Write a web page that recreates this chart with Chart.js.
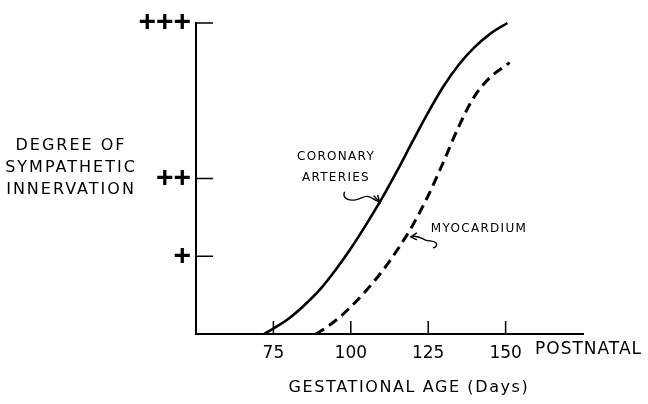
<!DOCTYPE html>
<html><head><meta charset="utf-8">
<script src="https://cdn.jsdelivr.net/npm/chart.js@4/dist/chart.umd.min.js"></script>
<style>html,body{margin:0;padding:0;background:#fff}#wrap{width:648px;height:404px}</style>
</head><body><div id="wrap"><canvas id="c" width="648" height="404"></canvas></div>
<script>
const xTickValues = [75, 100, 125, 150];
const yTickValues = [1, 2, 4];
const yTickLabels = ['+', '++', '+++'];
const coronaryX = [72, 75, 80, 85, 90, 95, 100, 105, 110, 115, 120, 125, 130, 135, 140, 145, 150.6];
const coronaryY = [0, 0.07, 0.2, 0.37, 0.57, 0.82, 1.1, 1.41, 1.74, 2.1, 2.48, 2.85, 3.19, 3.47, 3.69, 3.86, 4.0];
const myoX = [88.6, 90, 95, 100, 105, 110, 115, 120, 125, 130, 135, 140, 145, 151.3];
const myoY = [0, 0.03, 0.17, 0.35, 0.56, 0.8, 1.08, 1.4, 1.78, 2.22, 2.68, 3.06, 3.3, 3.49];
const titleLines = ['DEGREE OF', 'SYMPATHETIC', 'INNERVATION'];
const xTitle = 'GESTATIONAL AGE (Days)';
const postLabel = 'POSTNATAL';
const coronaryLabel = ['CORONARY', 'ARTERIES'];
const myoLabel = 'MYOCARDIUM';
const coronaryArrowAt = [109.3, 1.7];
const myoArrowAt = [119.4, 1.25];

const toPts = (xs, ys) => xs.map((x, i) => ({x: x, y: ys[i]}));

const deco = {
  id: 'deco',
  afterDraw(chart) {
    const ctx = chart.ctx, xs = chart.scales.x, ys = chart.scales.y, ca = chart.chartArea;
    ctx.save();
    ctx.strokeStyle = '#000'; ctx.fillStyle = '#000';
    ctx.lineWidth = 1.5;
    yTickValues.forEach(v => {
      const y = ys.getPixelForValue(v);
      ctx.beginPath(); ctx.moveTo(ca.left, y); ctx.lineTo(ca.left + 17, y); ctx.stroke();
    });
    xTickValues.forEach(v => {
      const x = xs.getPixelForValue(v);
      ctx.beginPath(); ctx.moveTo(x, ca.bottom); ctx.lineTo(x, ca.bottom - 13); ctx.stroke();
    });
    ctx.font = '17px "DejaVu Sans"';
    ctx.letterSpacing = '1px';
    ctx.textAlign = 'left'; ctx.textBaseline = 'middle';
    ctx.fillText(postLabel, ca.right - 48, ca.bottom + 16);
    ctx.font = '16px "DejaVu Sans"';
    ctx.letterSpacing = '2px';
    ctx.textAlign = 'center';
    titleLines.forEach((t, i) => ctx.fillText(t, 71, 146 + i * 22));
    ctx.letterSpacing = '1.6px';
    ctx.fillText(xTitle, 409, 388);
    ctx.font = '12px "DejaVu Sans"';
    ctx.letterSpacing = '1.3px';
    ctx.fillText(coronaryLabel[0], 336, 157);
    ctx.fillText(coronaryLabel[1], 336, 178);
    ctx.fillText(myoLabel, 479, 229);
    ctx.letterSpacing = '0px';
    ctx.lineWidth = 1.4;
    let tx = xs.getPixelForValue(coronaryArrowAt[0]), ty = ys.getPixelForValue(coronaryArrowAt[1]);
    ctx.beginPath();
    ctx.moveTo(tx - 35, ty - 10);
    ctx.bezierCurveTo(tx - 38, ty - 3, tx - 30, ty - 1, tx - 24, ty - 2);
    ctx.bezierCurveTo(tx - 18, ty - 3, tx - 15, ty - 7, tx - 10, ty - 5);
    ctx.bezierCurveTo(tx - 6, ty - 3, tx - 4, ty - 1, tx, ty);
    ctx.stroke();
    ctx.beginPath();
    ctx.moveTo(tx - 6, ty - 6); ctx.lineTo(tx, ty); ctx.lineTo(tx - 2, ty - 7);
    ctx.stroke();
    tx = xs.getPixelForValue(myoArrowAt[0]); ty = ys.getPixelForValue(myoArrowAt[1]);
    ctx.beginPath();
    ctx.moveTo(tx, ty);
    ctx.bezierCurveTo(tx + 6, ty - 2, tx + 10, ty + 1, tx + 14, ty + 3);
    ctx.bezierCurveTo(tx + 18, ty + 5, tx + 22, ty + 3, tx + 25, ty + 6);
    ctx.bezierCurveTo(tx + 27, ty + 8, tx + 25, ty + 11, tx + 22, ty + 11);
    ctx.stroke();
    ctx.beginPath();
    ctx.moveTo(tx + 6, ty - 4); ctx.lineTo(tx, ty); ctx.lineTo(tx + 6, ty + 3);
    ctx.stroke();
    ctx.restore();
  }
};

new Chart(document.getElementById('c'), {
  type: 'line',
  data: {
    datasets: [
      {label: 'Coronary arteries', data: toPts(coronaryX, coronaryY), borderColor: '#000', borderWidth: 2.6,
       pointRadius: 0, cubicInterpolationMode: 'monotone', fill: false, clip: 8},
      {label: 'Myocardium', data: toPts(myoX, myoY), borderColor: '#000', borderWidth: 3,
       borderDash: [10, 6], pointRadius: 0, cubicInterpolationMode: 'monotone', fill: false, clip: 8}
    ]
  },
  options: {
    responsive: false, animation: false, devicePixelRatio: 1,
    layout: {padding: {left: 0, right: 65, top: 22, bottom: 0}},
    plugins: {legend: {display: false}, tooltip: {enabled: false}},
    scales: {
      x: {
        type: 'linear', min: 50, max: 175,
        afterBuildTicks: s => { s.ticks = xTickValues.map(v => ({value: v})); },
        afterFit: s => { s.height = 70; },
        grid: {display: false, drawTicks: false},
        border: {display: true, color: '#000', width: 2},
        ticks: {padding: 9, color: '#000', font: {family: 'DejaVu Sans', size: 17}, maxRotation: 0, autoSkip: false}
      },
      y: {
        type: 'linear', min: 0, max: 4,
        afterBuildTicks: s => { s.ticks = yTickValues.map(v => ({value: v})); },
        afterFit: s => { s.width = 196; },
        grid: {display: false, drawTicks: false},
        border: {display: true, color: '#000', width: 2},
        ticks: {padding: 5, color: '#000', font: {family: 'Liberation Sans', size: 30, weight: 'bold'},
                autoSkip: false, callback: v => yTickLabels[yTickValues.indexOf(v)] || ''}
      }
    }
  },
  plugins: [deco]
});
</script>
</body></html>
